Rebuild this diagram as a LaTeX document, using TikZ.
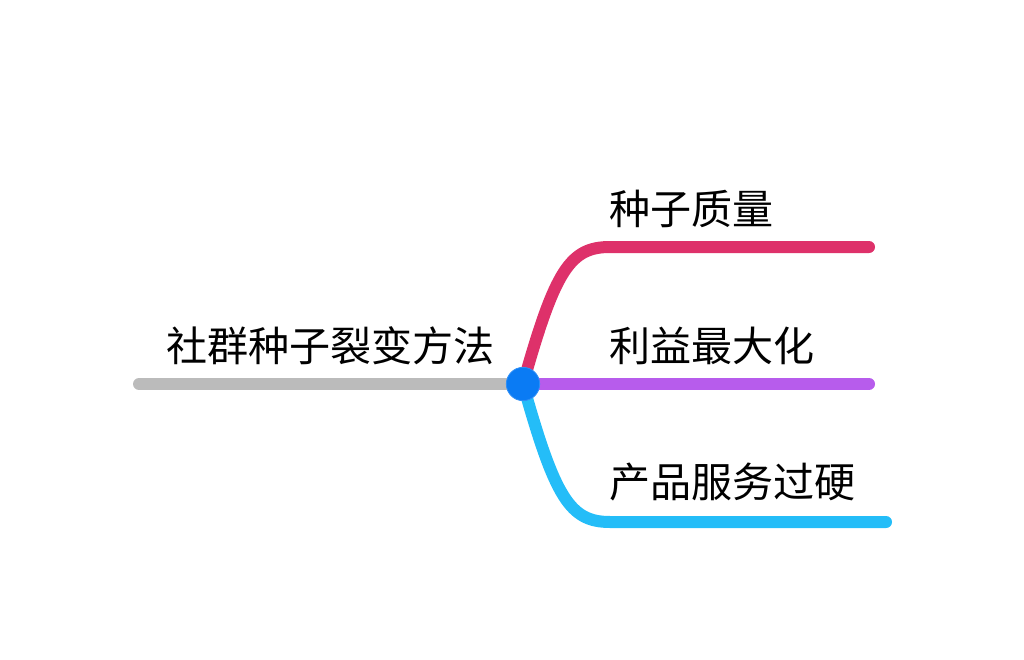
\documentclass[tikz,border=0pt]{standalone}
\usepackage{fontspec}
\setmainfont{Noto Sans CJK SC}
\usepackage{xcolor}
\usetikzlibrary{positioning,calc}

\definecolor{rootgray}{HTML}{BBBBBB}
\definecolor{hubblue}{HTML}{0A7BF4}
\definecolor{seedpink}{HTML}{DE316A}
\definecolor{gainpurple}{HTML}{B75CEC}
\definecolor{goodcyan}{HTML}{24BDF8}

\tikzset{
    branch/.style={line width=9pt, line cap=round},
    label/.style={anchor=west, inner sep=0pt, font=\fontsize{30.8}{36}\selectfont},
    hub/.style={circle, fill=hubblue, draw=hubblue!85!white, line width=0.6pt, minimum size=25pt, inner sep=0pt}
}

\begin{document}
\begin{tikzpicture}[x=0.75pt, y=-0.75pt]
    \useasboundingbox (0,0) rectangle (1024,660);

    % Center point and line ends
    \coordinate (c) at (523,384);
    \coordinate (rootEnd) at (139,384);
    \coordinate (seedEnd) at (869,247);
    \coordinate (gainEnd) at (869,384);
    \coordinate (goodEnd) at (886,522);

    % Root
    \node[label] (root) at (166,346) {社群种子裂变方法};
    \draw[branch, rootgray] (rootEnd) -- (c);

    % Branches
    \draw[branch, seedpink] (c) .. controls (555,270) and (570,247) .. (610,247) -- (seedEnd);
    \draw[branch, gainpurple] (c) -- (gainEnd);
    \draw[branch, goodcyan] (c) .. controls (555,498) and (570,522) .. (610,522) -- (goodEnd);

    % Labels
    \node[label] (seed) at (609,209) {种子质量};
    \node[label] (gain) at (609,346) {利益最大化};
    \node[label] (good) at (609,482) {产品服务过硬};

    \node[hub] (center) at (c) {};
\end{tikzpicture}
\end{document}
